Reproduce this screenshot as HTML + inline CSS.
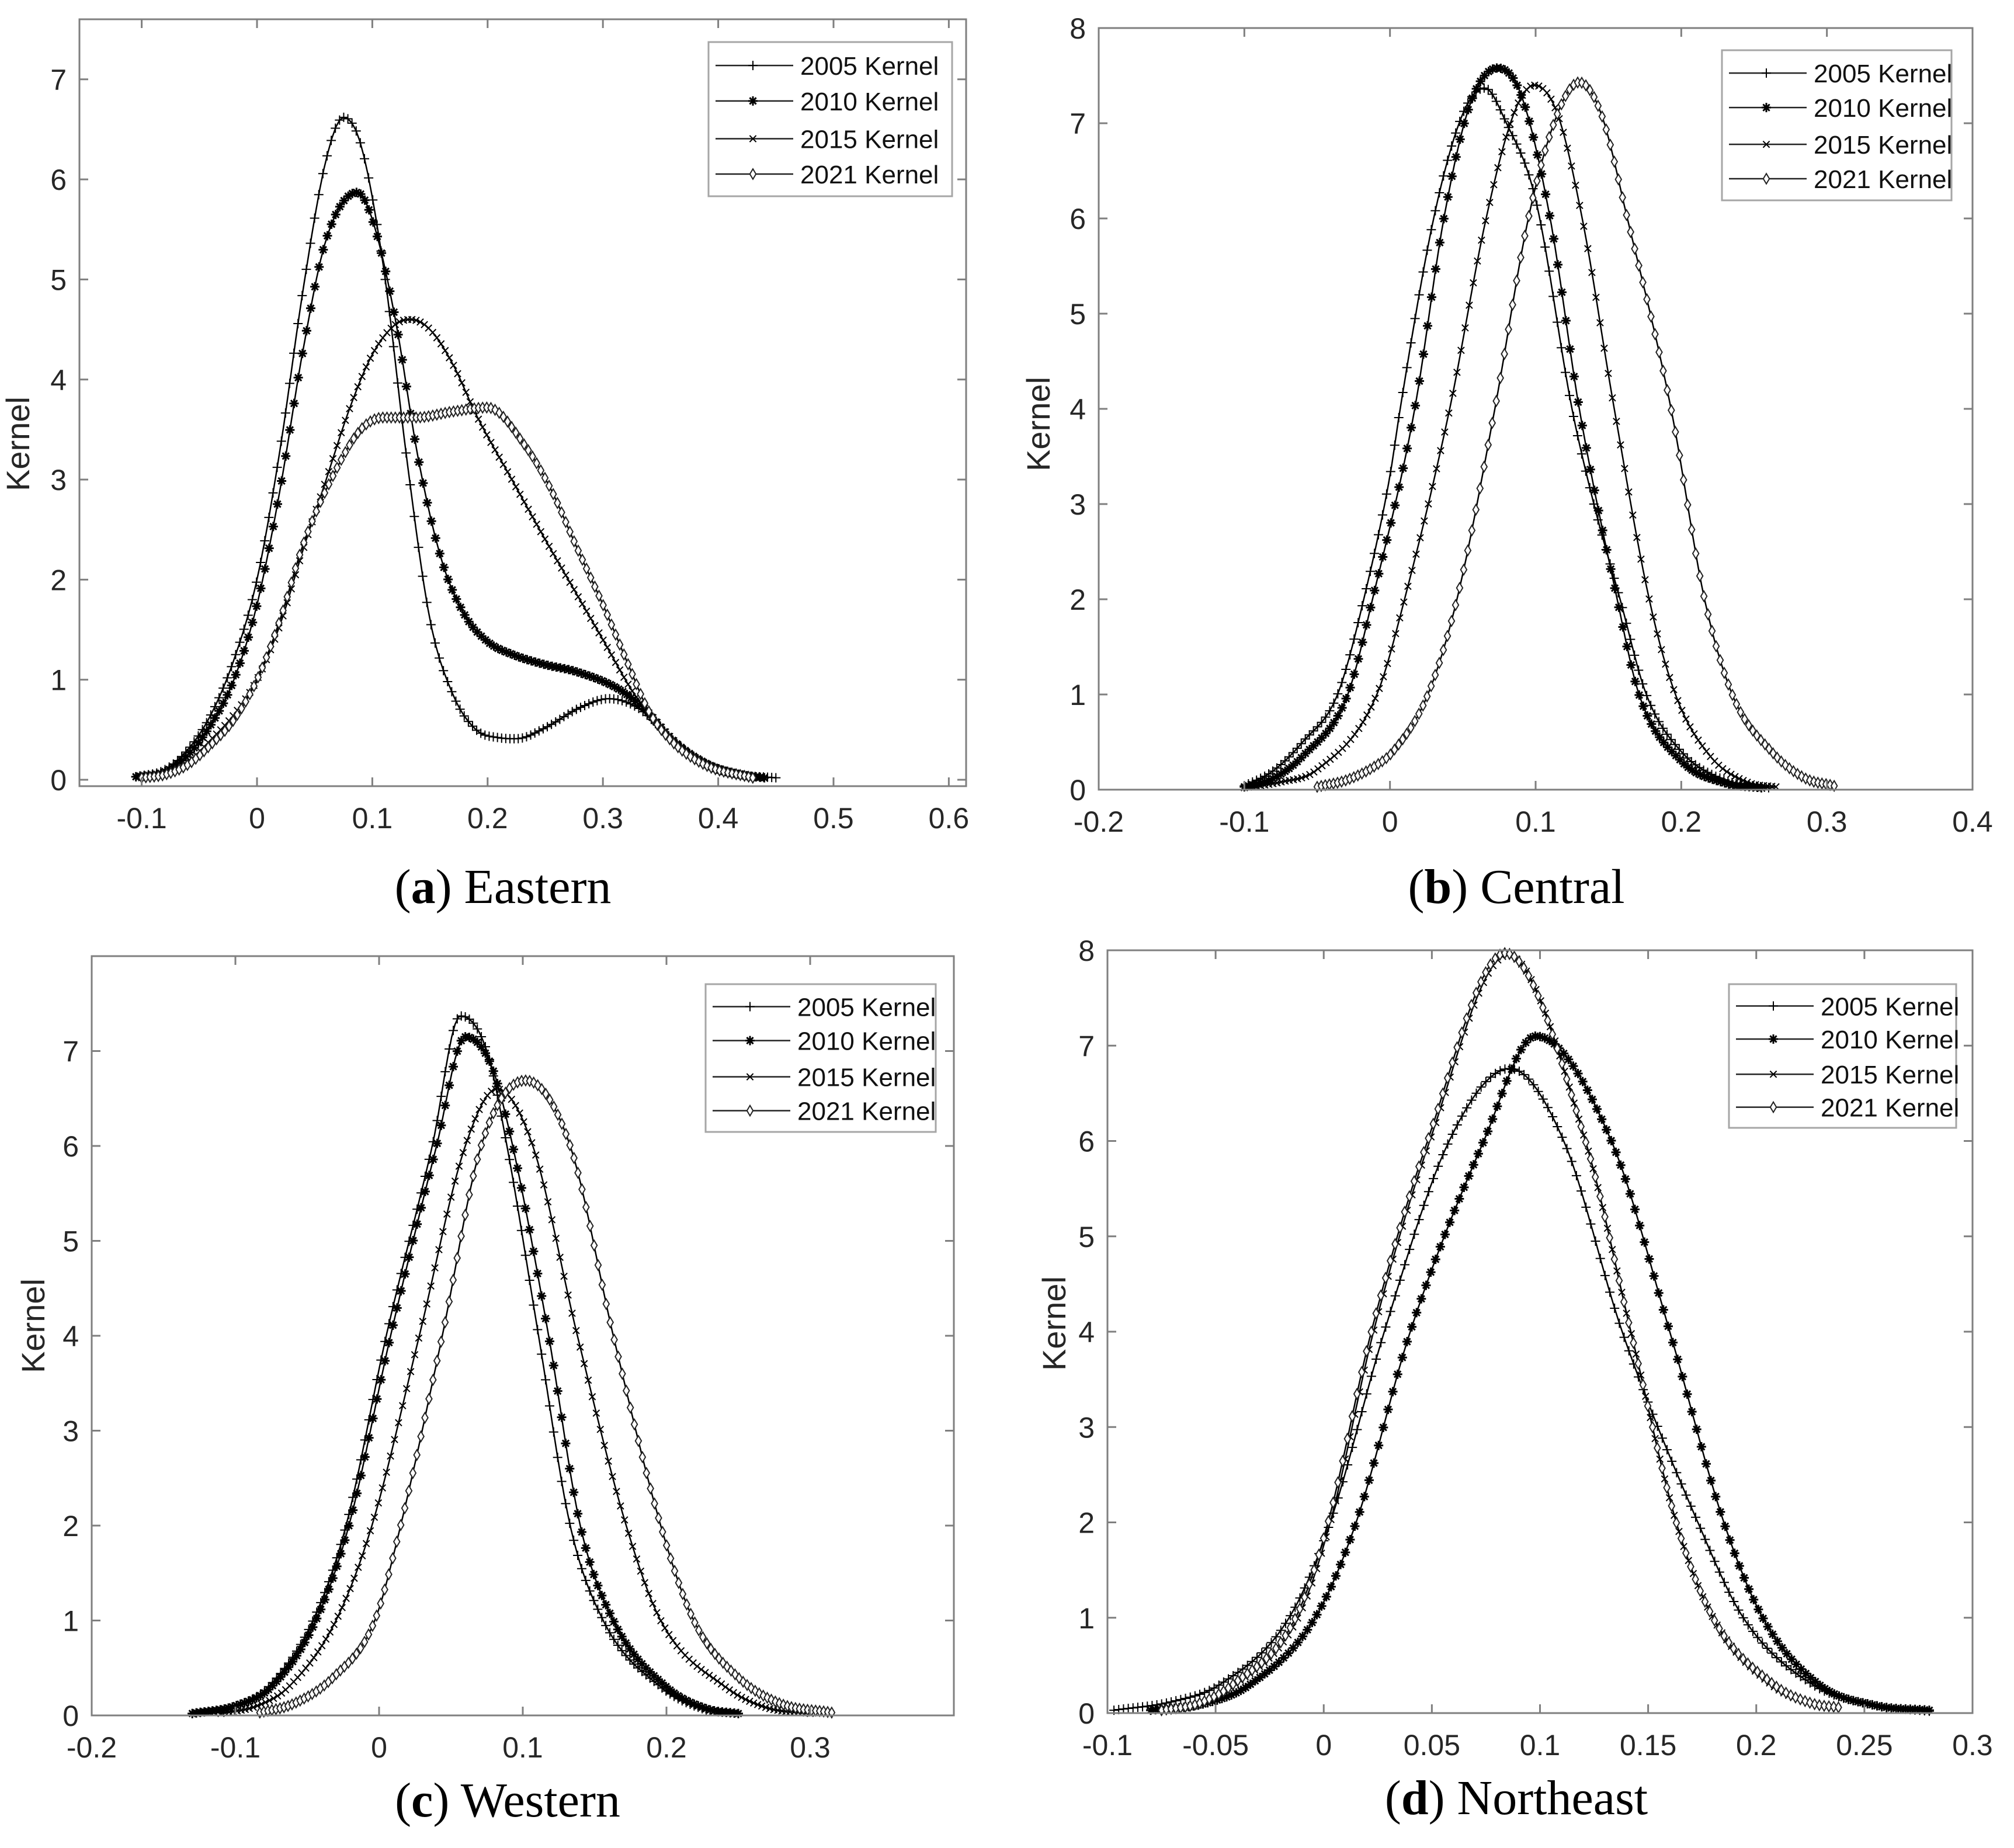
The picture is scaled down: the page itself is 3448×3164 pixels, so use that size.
<!DOCTYPE html>
<html><head><meta charset="utf-8">
<style>
html,body{margin:0;padding:0;background:#fff;}
svg{display:block;}
.tick{font-family:"Liberation Sans",Arial,sans-serif;font-size:50px;fill:#262626;}
.ylab{font-family:"Liberation Sans",Arial,sans-serif;font-size:56px;fill:#262626;}
.leg{font-family:"Liberation Sans",Arial,sans-serif;font-size:44px;fill:#111;}
.cap{font-family:"Liberation Serif","Times New Roman",serif;font-size:84px;fill:#000;}
</style></head>
<body>
<svg id="fig" width="3448" height="3164" viewBox="0 0 3448 3164" xmlns="http://www.w3.org/2000/svg"></svg>
<script>
// ---------- Panel (a) Eastern ----------
const a2005x=[-0.105,-0.08,-0.06,-0.04,-0.02,0,0.02,0.04,0.06,0.075,0.09,0.11,0.13,0.15,0.17,0.19,0.21,0.225,0.25,0.28,0.305,0.33,0.36,0.39,0.42,0.45];
const a2005y=[0.03,0.1,0.3,0.65,1.2,2.0,3.3,4.9,6.2,6.62,6.35,5.1,3.2,1.6,0.85,0.5,0.42,0.41,0.52,0.72,0.81,0.72,0.4,0.15,0.05,0.02];
const a2010x=[-0.105,-0.08,-0.06,-0.04,-0.02,0,0.02,0.04,0.06,0.087,0.1,0.12,0.14,0.16,0.18,0.2,0.222,0.25,0.277,0.316,0.338,0.36,0.39,0.42,0.44];
const a2010y=[0.03,0.08,0.25,0.55,1.0,1.75,2.9,4.3,5.4,5.87,5.6,4.6,3.2,2.2,1.65,1.38,1.25,1.15,1.08,0.89,0.68,0.4,0.16,0.05,0.02];
const a2015x=[-0.1,-0.08,-0.06,-0.04,-0.02,0,0.02,0.04,0.06,0.08,0.1,0.12,0.133,0.15,0.17,0.19,0.222,0.25,0.277,0.3,0.327,0.345,0.37,0.4,0.43];
const a2015y=[0.02,0.06,0.18,0.4,0.65,1.0,1.55,2.3,3.0,3.7,4.25,4.55,4.6,4.5,4.15,3.65,2.98,2.4,1.86,1.4,0.86,0.6,0.3,0.1,0.03];
const a2021x=[-0.1,-0.08,-0.06,-0.04,-0.02,0,0.02,0.04,0.066,0.09,0.11,0.138,0.17,0.2,0.233,0.255,0.277,0.3,0.322,0.34,0.36,0.39,0.43];
const a2021y=[0.02,0.05,0.15,0.35,0.6,1.0,1.6,2.35,3.04,3.5,3.62,3.62,3.68,3.72,3.33,2.9,2.33,1.75,1.15,0.68,0.38,0.14,0.02];
const aXTicks=[-0.1,0,0.1,0.2,0.3,0.4,0.5,0.6];
const aXLabels=["-0.1","0","0.1","0.2","0.3","0.4","0.5","0.6"];
const aYTicks=[0,1,2,3,4,5,6,7];
const aYLabels=["0","1","2","3","4","5","6","7"];

// ---------- Panel (b) Central ----------
const b2005x=[-0.1,-0.08,-0.06,-0.036,-0.018,0,0.007,0.03,0.05,0.065,0.08,0.1,0.125,0.14,0.158,0.176,0.2,0.23,0.26];
const b2005y=[0.04,0.2,0.5,1.0,2.0,3.3,4.0,6.0,7.1,7.37,7.0,6.2,4.0,3.0,2.0,1.0,0.4,0.1,0.02];
const b2010x=[-0.1,-0.08,-0.06,-0.029,-0.012,0.017,0.037,0.055,0.074,0.09,0.11,0.13,0.156,0.171,0.2,0.23,0.255];
const b2010y=[0.03,0.12,0.35,1.0,2.0,4.0,6.0,7.2,7.58,7.3,6.0,4.0,2.0,1.0,0.3,0.07,0.02];
const b2015x=[-0.1,-0.075,-0.051,-0.009,0.01,0.041,0.066,0.085,0.099,0.115,0.132,0.154,0.178,0.196,0.22,0.245,0.265];
const b2015y=[0.02,0.08,0.2,1.0,2.0,4.0,6.0,7.1,7.4,7.1,6.0,4.0,2.0,1.0,0.35,0.08,0.03];
const b2021x=[-0.05,-0.03,-0.01,0.002,0.026,0.046,0.072,0.095,0.115,0.13,0.145,0.163,0.193,0.216,0.235,0.262,0.285,0.305];
const b2021y=[0.03,0.1,0.25,0.4,1.0,2.0,4.0,6.0,7.1,7.43,7.1,6.0,4.0,2.0,1.0,0.4,0.12,0.04];
const bXTicks=[-0.2,-0.1,0,0.1,0.2,0.3,0.4];
const bXLabels=["-0.2","-0.1","0","0.1","0.2","0.3","0.4"];
const bYTicks=[0,1,2,3,4,5,6,7,8];
const bYLabels=["0","1","2","3","4","5","6","7","8"];

// ---------- Panel (c) Western ----------
const c2005x=[-0.13,-0.1,-0.077,-0.046,-0.023,0.005,0.037,0.0565,0.075,0.089,0.111,0.133,0.156,0.196,0.225,0.25];
const c2005y=[0.02,0.1,0.3,1.0,2.0,4.0,6.0,7.37,7.0,6.0,4.0,2.0,1.0,0.3,0.07,0.02];
const c2010x=[-0.13,-0.1,-0.075,-0.044,-0.021,0.008,0.04,0.06,0.078,0.093,0.118,0.14,0.163,0.2,0.228,0.25];
const c2010y=[0.02,0.1,0.3,1.0,2.0,4.0,6.0,7.15,6.85,6.0,4.0,2.0,1.0,0.3,0.07,0.02];
const c2015x=[-0.11,-0.085,-0.063,-0.03,-0.005,0.028,0.06,0.082,0.107,0.138,0.172,0.196,0.241,0.27,0.3];
const c2015y=[0.02,0.1,0.3,1.0,2.0,4.0,6.0,6.6,6.0,4.0,2.0,1.0,0.3,0.08,0.02];
const c2021x=[-0.083,-0.06,-0.032,-0.003,0.015,0.044,0.071,0.102,0.133,0.163,0.196,0.219,0.25,0.28,0.315];
const c2021y=[0.03,0.12,0.4,1.0,2.0,4.0,6.0,6.69,6.0,4.0,2.0,1.0,0.4,0.12,0.03];
const cXTicks=[-0.2,-0.1,0,0.1,0.2,0.3];
const cXLabels=["-0.2","-0.1","0","0.1","0.2","0.3"];
const cYTicks=[0,1,2,3,4,5,6,7];
const cYLabels=["0","1","2","3","4","5","6","7"];

// ---------- Panel (d) Northeast ----------
const d2005x=[-0.097,-0.07,-0.048,-0.016,0.003,0.028,0.058,0.086,0.111,0.138,0.173,0.194,0.226,0.255,0.28];
const d2005y=[0.03,0.12,0.3,1.0,2.0,4.0,6.0,6.76,6.0,4.0,2.0,1.0,0.3,0.08,0.02];
const d2010x=[-0.08,-0.055,-0.034,-0.004,0.015,0.04,0.074,0.098,0.133,0.16,0.185,0.203,0.229,0.255,0.28];
const d2010y=[0.03,0.1,0.3,1.0,2.0,4.0,6.0,7.1,6.0,4.0,2.0,1.0,0.3,0.08,0.03];
const d2015x=[-0.076,-0.058,-0.041,-0.012,0.003,0.023,0.049,0.085,0.121,0.142,0.163,0.18,0.207,0.225,0.237];
const d2015y=[0.03,0.1,0.3,1.0,2.0,4.0,6.0,7.95,6.0,4.0,2.0,1.0,0.3,0.1,0.06];
const d2021x=[-0.075,-0.058,-0.042,-0.013,0.002,0.022,0.048,0.084,0.121,0.142,0.163,0.18,0.208,0.226,0.238];
const d2021y=[0.03,0.1,0.3,1.0,2.0,4.0,6.0,7.97,6.0,4.0,2.0,1.0,0.3,0.1,0.06];
const dXTicks=[-0.1,-0.05,0,0.05,0.1,0.15,0.2,0.25,0.3];
const dXLabels=["-0.1","-0.05","0","0.05","0.1","0.15","0.2","0.25","0.3"];
const dYTicks=[0,1,2,3,4,5,6,7,8];
const dYLabels=["0","1","2","3","4","5","6","7","8"];

const legendLabels=["2005 Kernel","2010 Kernel","2015 Kernel","2021 Kernel"];
const markerKinds=["plus","star","cross","diamond"];

const NS="http://www.w3.org/2000/svg";
const fig=document.getElementById('fig');
function mk(tag,attrs,parent){const e=document.createElementNS(NS,tag);for(const k in attrs)e.setAttribute(k,attrs[k]);(parent||fig).appendChild(e);return e;}

function monotone(xs,ys){
  const n=xs.length,d=[],m=new Array(n);
  for(let i=0;i<n-1;i++)d.push((ys[i+1]-ys[i])/(xs[i+1]-xs[i]));
  m[0]=d[0];m[n-1]=d[n-2];
  for(let i=1;i<n-1;i++){m[i]=(d[i-1]*d[i]<=0)?0:(d[i-1]+d[i])/2;}
  for(let i=0;i<n-1;i++){
    if(d[i]===0){m[i]=0;m[i+1]=0;continue;}
    const a=m[i]/d[i],b=m[i+1]/d[i],s=a*a+b*b;
    if(s>9){const t=3/Math.sqrt(s);m[i]=t*a*d[i];m[i+1]=t*b*d[i];}
  }
  return function(x){
    let i=0;while(i<n-2&&x>xs[i+1])i++;
    const h=xs[i+1]-xs[i],t=(x-xs[i])/h;
    const h00=2*t*t*t-3*t*t+1,h10=t*t*t-2*t*t+t,h01=-2*t*t*t+3*t*t,h11=t*t*t-t*t;
    return h00*ys[i]+h10*h*m[i]+h01*ys[i+1]+h11*h*m[i+1];
  };
}

function marker(g,kind,cx,cy,s){
  let e;
  if(kind==="plus"){e=mk('path',{d:`M${cx-s} ${cy}H${cx+s}M${cx} ${cy-s}V${cy+s}`,stroke:'#000','stroke-width':2,fill:'none'},g);}
  else if(kind==="star"){e=mk('path',{d:`M${cx-s} ${cy}H${cx+s}M${cx} ${cy-s}V${cy+s}M${cx-s*0.7} ${cy-s*0.7}L${cx+s*0.7} ${cy+s*0.7}M${cx-s*0.7} ${cy+s*0.7}L${cx+s*0.7} ${cy-s*0.7}`,stroke:'#000','stroke-width':3,fill:'none'},g);}
  else if(kind==="cross"){const r=s*0.7;e=mk('path',{d:`M${cx-r} ${cy-r}L${cx+r} ${cy+r}M${cx-r} ${cy+r}L${cx+r} ${cy-r}`,stroke:'#000','stroke-width':2,fill:'none'},g);}
  else {e=mk('path',{d:`M${cx} ${cy-s*1.1}L${cx+s*0.65} ${cy}L${cx} ${cy+s*1.1}L${cx-s*0.65} ${cy}Z`,stroke:'#222','stroke-width':2,fill:'#fff'},g);}
  return e;
}

function panel(p){
  const g=mk('g',{});
  
  
  const sx=v=>p.L+(v-p.xmin)/(p.xmax-p.xmin)*(p.R-p.L);
  const sy=v=>p.B-(v-p.ymin)/(p.ymax-p.ymin)*(p.B-p.T);
  p.series.forEach((s,si)=>{
    const sg=mk('g',{},g);
    
    
    const f=monotone(s.x,s.y);
    const x0=s.x[0],x1=s.x[s.x.length-1];
    const N=160;let d='';
    for(let i=0;i<=N;i++){const xv=x0+(x1-x0)*i/N;d+=(i?'L':'M')+sx(xv).toFixed(1)+' '+sy(Math.max(f(xv),0)).toFixed(1);}
    const path=mk('path',{d:d,stroke:'#000','stroke-width':2.5,fill:'none'},sg);
    
    
    const M=Math.round((x1-x0)/p.mstep);
    for(let i=0;i<=M;i++){const xv=x0+(x1-x0)*i/M;marker(sg,markerKinds[si],sx(xv),sy(Math.max(f(xv),0)),8);}
  });
  const box=mk('rect',{x:p.L,y:p.T,width:p.R-p.L,height:p.B-p.T,fill:'none',stroke:'#7f7f7f','stroke-width':3},g);
  
  
  p.xt.forEach((v,i)=>{
    const X=sx(v);
    mk('line',{x1:X,x2:X,y1:p.B,y2:p.B-15,stroke:'#7f7f7f','stroke-width':3},g);
    mk('line',{x1:X,x2:X,y1:p.T,y2:p.T+15,stroke:'#7f7f7f','stroke-width':3},g);
    const t=mk('text',{x:X,y:p.B+72,'text-anchor':'middle',class:'tick'},g);
    t.textContent=p.xl[i];
    
    
  });
  p.yt.forEach((v,i)=>{
    const Y=sy(v);
    mk('line',{x1:p.L,x2:p.L+15,y1:Y,y2:Y,stroke:'#7f7f7f','stroke-width':3},g);
    mk('line',{x1:p.R,x2:p.R-15,y1:Y,y2:Y,stroke:'#7f7f7f','stroke-width':3},g);
    const t=mk('text',{x:p.L-22,y:Y+18,'text-anchor':'end',class:'tick'},g);
    t.textContent=p.yl[i];
    
    
  });
  const yl=mk('text',{x:0,y:0,'text-anchor':'middle',class:'ylab',transform:`translate(${p.ylx},${p.yly}) rotate(-90)`},g);
  yl.textContent='Kernel';
  
  
  const lg=mk('g',{},g);
  
  
  const [l,t,r,b]=p.leg;
  mk('rect',{x:l,y:t,width:r-l,height:b-t,fill:'#fff',stroke:'#a6a6a6','stroke-width':3},lg);
  const h=b-t;
  [0.152,0.382,0.627,0.856].forEach((fr,i)=>{
    const Y=t+fr*h;
    const en=mk('g',{},lg);
    
    
    mk('line',{x1:l+12,x2:l+145,y1:Y,y2:Y,stroke:'#222','stroke-width':2.5},en);
    marker(en,markerKinds[i],l+76,Y,8);
    const tx=mk('text',{x:l+157,y:Y+16,class:'leg'},en);
    tx.textContent=legendLabels[i];
  });
  const cap=mk('text',{x:p.capx,y:p.capy,'text-anchor':'middle',class:'cap'},g);
  cap.innerHTML='(<tspan font-weight="bold">'+p.letter+'</tspan>) '+p.region;
  
  
}

panel({name:'panel-a-eastern',L:136,R:1654,T:33,B:1346,xmin:-0.154,xmax:0.615,ymin:-0.064,ymax:7.6,
  series:[{x:a2005x,y:a2005y},{x:a2010x,y:a2010y},{x:a2015x,y:a2015y},{x:a2021x,y:a2021y}],
  xt:aXTicks,xl:aXLabels,yt:aYTicks,yl:aYLabels,ylx:50,yly:760,leg:[1213,72,1630,336],mstep:0.0036,
  capx:861,capy:1546,letter:'a',region:'Eastern'});
panel({name:'panel-b-central',L:1881,R:3377,T:48,B:1352,xmin:-0.2,xmax:0.4,ymin:0,ymax:8,
  series:[{x:b2005x,y:b2005y},{x:b2010x,y:b2010y},{x:b2015x,y:b2015y},{x:b2021x,y:b2021y}],
  xt:bXTicks,xl:bXLabels,yt:bYTicks,yl:bYLabels,ylx:1797,yly:726,leg:[2948,86,3341,343],mstep:0.0028,
  capx:2596,capy:1546,letter:'b',region:'Central'});
panel({name:'panel-c-western',L:157,R:1633,T:1637,B:2937,xmin:-0.2,xmax:0.4,ymin:0,ymax:8,
  series:[{x:c2005x,y:c2005y},{x:c2010x,y:c2010y},{x:c2015x,y:c2015y},{x:c2021x,y:c2021y}],
  xt:cXTicks,xl:cXLabels,yt:cYTicks,yl:cYLabels,ylx:76,yly:2270,leg:[1208,1685,1602,1938],mstep:0.0028,
  capx:869,capy:3110,letter:'c',region:'Western'});
panel({name:'panel-d-northeast',L:1896,R:3377,T:1627,B:2933,xmin:-0.1,xmax:0.3,ymin:0,ymax:8,
  series:[{x:d2005x,y:d2005y},{x:d2010x,y:d2010y},{x:d2015x,y:d2015y},{x:d2021x,y:d2021y}],
  xt:dXTicks,xl:dXLabels,yt:dYTicks,yl:dYLabels,ylx:1824,yly:2266,leg:[2960,1685,3349,1931],mstep:0.0022,
  capx:2596,capy:3106,letter:'d',region:'Northeast'});
</script>
</body></html>
